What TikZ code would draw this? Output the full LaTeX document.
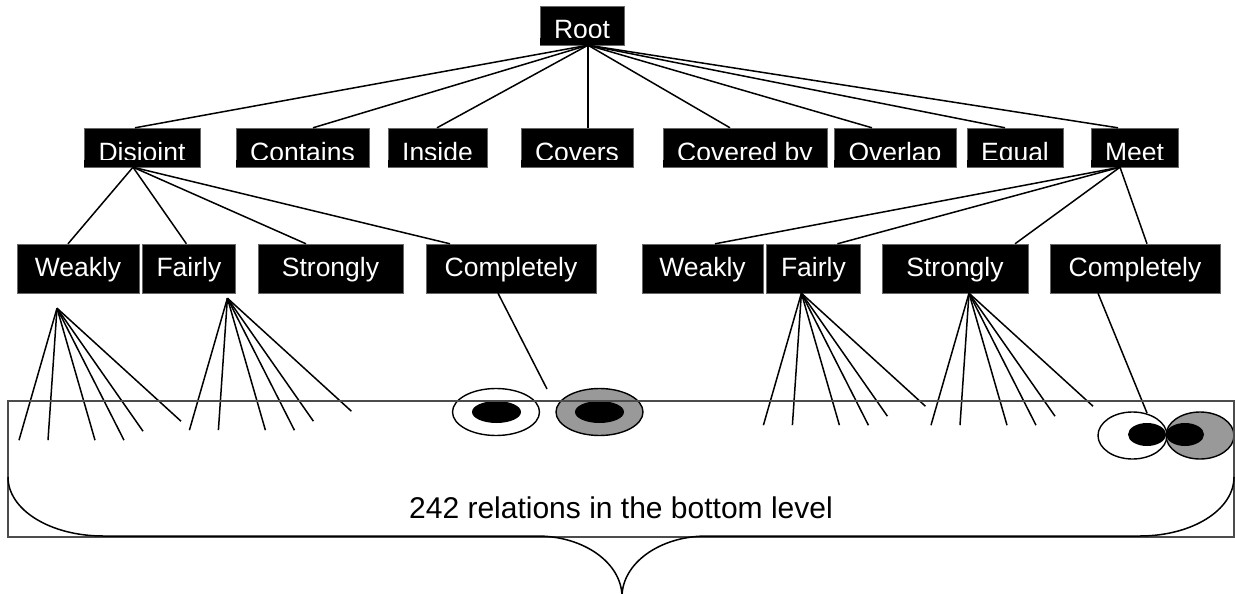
\documentclass[tikz,border=0pt]{standalone}
\usepackage{fontspec}
\setmainfont{Liberation Sans}
\usetikzlibrary{positioning}

% six leaves hanging from one point
\newcommand{\relfan}[1]{%
  \foreach \dx/\dy in {-38/132,-9/132,38/132,67/132,86/123,124/113}
    \draw[link] (#1) -- ++(\dx,\dy);}

\begin{document}
\begin{tikzpicture}[
    x=1pt, y=-1pt,
    box/.style={fill=black, draw=black!60, text=white, inner sep=0pt,
                font=\fontsize{26.5}{30}\selectfont},
    toprow/.style={box, minimum height=39pt, text height=27pt, text depth=0pt},
    subrow/.style={box, minimum height=49pt, text height=19pt, text depth=4pt},
    link/.style={line width=1.5pt},
    blob/.style={line width=1.4pt}
]
\useasboundingbox (0,0) rectangle (1235,594);

% levels 0 and 1
\node[toprow, minimum width=84pt] (root) at (582,25.5) {Root};
\node[toprow, minimum width=116pt] (disjoint) at (142,147.5) {Disjoint};
\node[toprow, minimum width=133pt] (contains) at (302.5,147.5) {Contains};
\node[toprow, minimum width=99pt] (inside) at (437.5,147.5) {Inside};
\node[toprow, minimum width=112pt] (covers) at (577,147.5) {Covers};
\node[toprow, minimum width=164pt] (coveredby) at (745,147.5) {Covered by};
\node[toprow, minimum width=122pt] (overlap) at (895,147.5) {Overlap};
\node[toprow, minimum width=96pt] (equal) at (1015,147.5) {Equal};
\node[toprow, minimum width=87pt] (meet) at (1134.5,147.5) {Meet};

% level 2
\node[subrow, minimum width=122pt] (lweakly) at (78,268.5) {Weakly};
\node[subrow, minimum width=93pt, right=3pt of lweakly] (lfairly) {Fairly};
\node[subrow, minimum width=145pt] (lstrongly) at (330.5,268.5) {Strongly};
\node[subrow, minimum width=170pt] (lcompletely) at (511,268.5) {Completely};
\node[subrow, minimum width=121pt] (rweakly) at (702.5,268.5) {Weakly};
\node[subrow, minimum width=94pt, right=3pt of rweakly] (rfairly) {Fairly};
\node[subrow, minimum width=146pt] (rstrongly) at (955,268.5) {Strongly};
\node[subrow, minimum width=170pt] (rcompletely) at (1135,268.5) {Completely};

% labels are cut off at the baseline
\foreach \n in {root,disjoint,contains,inside,covers,coveredby,overlap,equal,meet}
  \fill (\n.south west) rectangle ([yshift=7.5pt]\n.south east);

\foreach \n/\dx in {disjoint/-7,contains/10.5,inside/-0.5,covers/11,coveredby/-15,overlap/-23,equal/-10,meet/-16.5}
  \draw[link] ([xshift=6pt]root.south) -- ([xshift=\dx pt]\n.north);
\foreach \n/\dx in {lweakly/-10,lfairly/-2.5,lstrongly/-24.5,lcompletely/-61}
  \draw[link] ([xshift=-9pt]disjoint.south) -- ([xshift=\dx pt]\n.north);
\foreach \n/\dx in {rweakly/12.5,rfairly/24,rstrongly/60,rcompletely/12}
  \draw[link] ([xshift=-14.5pt]meet.south) -- ([xshift=\dx pt]\n.north);

% bottom level
\coordinate (lwfan) at ([xshift=-21pt,yshift=-15pt]lweakly.south);
\coordinate (lffan) at ([xshift=38.5pt,yshift=-5pt]lfairly.south);
\coordinate (rffan) at ([xshift=-12pt]rfairly.south);
\coordinate (rsfan) at ([xshift=14pt]rstrongly.south);
\relfan{lwfan}
\relfan{lffan}
\relfan{rffan}
\relfan{rsfan}
\coordinate (lcompend) at (547,389);
\coordinate (rcompend) at (1147,413);
\draw[link] ([xshift=-13pt]lcompletely.south) -- (lcompend);
\draw[link] ([xshift=-37pt]rcompletely.south) -- (rcompend);

\filldraw[blob, fill=white] (496,412) ellipse [x radius=43.5, y radius=23.5];
\fill (496.5,412) ellipse [x radius=24.5, y radius=11];
\filldraw[blob, fill=black!40] (599.5,412) ellipse [x radius=43.5, y radius=23.5];
\fill (599.5,412) ellipse [x radius=24.5, y radius=11];
\filldraw[blob, fill=white] (1132.5,435.5) ellipse [x radius=34.5, y radius=23.5];
\filldraw[blob, fill=black!40] (1200,435.5) ellipse [x radius=34, y radius=23.5];
\fill (1147,434.5) ellipse [x radius=19, y radius=11.5];
\fill (1185,434.5) ellipse [x radius=19, y radius=11.5];

\draw[draw=black!70, line width=1.2pt] (8,401) rectangle (1234,537);
% the brace under the box
\draw[link] (8,477) .. controls (8,510) and (50.5,536) .. (103,536)
  -- (537,536) .. controls (584,536) and (622,563) .. (622,597)
  .. controls (622,563) and (660,536) .. (707,536)
  -- (1140,536) .. controls (1192,536) and (1234,510) .. (1234,477);
\node[font=\fontsize{30}{34}\selectfont, anchor=base] (caption) at (621,518)
  {242 relations in the bottom level};
\end{tikzpicture}
\end{document}
